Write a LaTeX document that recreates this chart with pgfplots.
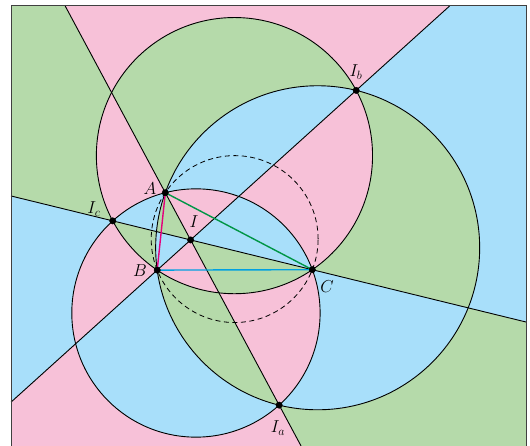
\documentclass[border=0pt]{standalone}
\usepackage{pgfplots}
\pgfplotsset{compat=1.18}
\definecolor{pk}{RGB}{247,193,216}
\definecolor{gr}{RGB}{181,218,170}
\definecolor{bl}{RGB}{168,223,250}
\definecolor{mg}{RGB}{228,0,124}
\definecolor{sg}{RGB}{0,150,70}
\definecolor{cy}{RGB}{0,160,225}
\begin{document}
\begin{tikzpicture}
\begin{axis}[x=1pt, y=1pt, scale only axis, hide axis,
  xmin=0, xmax=530, ymin=0, ymax=446, clip=true]
\coordinate (LL) at (axis cs:0,0);
\coordinate (UR) at (axis cs:530,446);
% coloured regions (pink background, green = odd parity of HA,DA,HB,DB, blue = odd parity of HB,DB,HC,DC)
\begin{scope}
\clip (axis cs:11,0) rectangle (axis cs:526,440);
\fill[pk] (axis cs:0,0) rectangle (axis cs:530,446);
\fill[gr, even odd rule]
  (axis cs:633.36,-619.98) -- (axis cs:-192.69,-1062.73) -- (axis cs:-1078.19,589.37) -- (axis cs:-252.14,1032.12) -- cycle
  (axis cs:852.85,804.19) -- (axis cs:1450.97,141.95) -- (axis cs:126.49,-1054.29) -- (axis cs:-471.63,-392.05) -- cycle
  (axis cs:234.455,290.365) circle[radius=138.09pt]
  (axis cs:195.95,132.995) circle[radius=124.15pt];
\fill[bl, even odd rule]
  (axis cs:852.85,804.19) -- (axis cs:1450.97,141.95) -- (axis cs:126.49,-1054.29) -- (axis cs:-471.63,-392.05) -- cycle
  (axis cs:1164.13,-32.09) -- (axis cs:925.97,-1005.61) -- (axis cs:-1021.07,-529.29) -- (axis cs:-782.91,444.23) -- cycle
  (axis cs:195.95,132.995) circle[radius=124.15pt]
  (axis cs:317.665,198.23) circle[radius=162.01pt];
\end{scope}
% circles
\draw[black, line width=0.9pt] (axis cs:234.455,290.365) circle[radius=138.09pt];
\draw[black, line width=0.9pt] (axis cs:195.95,132.995) circle[radius=124.15pt];
\draw[black, line width=0.9pt] (axis cs:317.665,198.23) circle[radius=162.01pt];
% bisector lines
\addplot[black, line width=0.9pt, no markers] coordinates {(65.2,440) (301.06,0)};
\addplot[black, line width=0.9pt, no markers] coordinates {(11,43.85) (449.6,440)};
\addplot[black, line width=0.9pt, no markers] coordinates {(11,250.03) (526,123.98)};
% circumcircle
\draw[black, line width=0.8pt, dash pattern=on 5pt off 3.5pt] (axis cs:234.67,206.92) circle[radius=83.45pt];
% triangle sides
\addplot[mg, line width=1.4pt, no markers] coordinates {(165.3,253.3) (157.2,175.9)};
\addplot[sg, line width=1.4pt, no markers] coordinates {(165.3,253.3) (312.3,176.3)};
\addplot[cy, line width=1.4pt, no markers] coordinates {(157.2,175.9) (312.3,176.3)};
% points
\addplot[only marks, mark=*, mark size=3.2pt, black] coordinates {
  (165.3,253.3) (157.2,175.9) (312.3,176.3) (190.61,206.07)
  (279.16,40.86) (356.17,355.60) (112.74,225.13)};
% frame
\draw[black!75, line width=1pt] (axis cs:11,-2) -- (axis cs:11,440) -- (axis cs:526,440) -- (axis cs:526,-2);
% labels
\begin{scope}[every node/.style={font=\fontsize{18}{18}\selectfont, inner sep=0pt}]
\node at (axis cs:150,257) {$A$};
\node at (axis cs:140,175) {$B$};
\node at (axis cs:327,159) {$C$};
\node at (axis cs:194,224) {$I$};
\node at (axis cs:356,374) {$I_b$};
\node at (axis cs:278,18) {$I_a$};
\node at (axis cs:94,237) {$I_c$};
\end{scope}
\end{axis}
\path[use as bounding box] (LL) rectangle (UR);
\end{tikzpicture}
\end{document}
